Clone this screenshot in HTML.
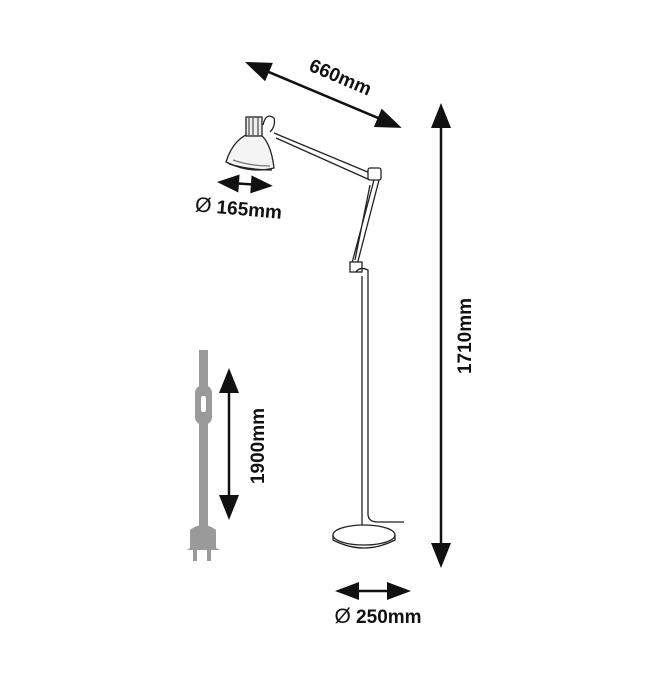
<!DOCTYPE html>
<html><head><meta charset="utf-8"><style>
html,body{margin:0;padding:0;background:#fff;}
svg{display:block;}
text{font-family:"Liberation Sans","DejaVu Sans",sans-serif;font-weight:bold;fill:#111;}
</style></head><body>
<svg width="650" height="677" viewBox="0 0 650 677" xmlns="http://www.w3.org/2000/svg">
<!-- 660mm arrow -->
<g transform="translate(245,62) rotate(22.8)">
  <line x1="14" y1="0" x2="157" y2="0" stroke="#111" stroke-width="2.5"/>
  <polygon points="0,0 26,-10 26,10" fill="#111"/>
  <polygon points="170,0 144,-10 144,10" fill="#111"/>
</g>
<text transform="translate(338,83) rotate(23)" font-size="19" text-anchor="middle">660mm</text>

<!-- 1710 arrow -->
<line x1="441" y1="120" x2="441" y2="552" stroke="#111" stroke-width="2.5"/>
<polygon points="441,103 431,128 451,128" fill="#111"/>
<polygon points="441,568 431,543 451,543" fill="#111"/>
<text transform="translate(471,336) rotate(-90)" font-size="19" text-anchor="middle">1710mm</text>

<!-- 1900 arrow -->
<line x1="229" y1="380" x2="229" y2="508" stroke="#111" stroke-width="2.5"/>
<polygon points="229,368 219,393 239,393" fill="#111"/>
<polygon points="229,520 219,495 239,495" fill="#111"/>
<text transform="translate(264,446) rotate(-90)" font-size="19" text-anchor="middle">1900mm</text>

<!-- 250 arrow -->
<line x1="345" y1="591" x2="400" y2="591" stroke="#111" stroke-width="2.5"/>
<polygon points="335,591 359,582 359,600" fill="#111"/>
<polygon points="411,591 387,582 387,600" fill="#111"/>
<text x="378" y="623" font-size="19" text-anchor="middle"><tspan font-size="21" font-weight="normal">Ø</tspan> 250mm</text>

<!-- 165 arrow -->
<g transform="translate(217,182) rotate(4)">
  <line x1="10" y1="0" x2="48" y2="0" stroke="#111" stroke-width="2.5"/>
  <polygon points="0,0 22,-9 22,9" fill="#111"/>
  <polygon points="56,0 34,-9 34,9" fill="#111"/>
</g>
<text transform="translate(238,215) rotate(5)" font-size="19" text-anchor="middle"><tspan font-size="21" font-weight="normal">Ø</tspan> 165mm</text>

<!-- lamp -->
<g fill="none" stroke="#222" stroke-width="1.3">
  <path d="M226,162 Q234,136 255,132 Q270,136 274,168 Q250,174 226,162 Z" fill="#f4f4f4"/>
  <path d="M229,164 Q250,170 272,170" />
  <path d="M233,160 Q250,166 270,166" stroke="#777"/>
  <rect x="246" y="117" width="16" height="19" fill="#eee"/>
  <path d="M249,117 L249,136 M253,117 L253,136 M258,117 L258,136" stroke="#555"/>
  <path d="M263,125 Q266,112 274,118 Q276,126 270,132"/>
  <path d="M274,133 L370,173 M276,138 L370,180"/>
  <rect x="368" y="168" width="13" height="12" rx="2" fill="#fff"/>
  <path d="M374,180 L352,263 M379,180 L357,265 M370,185 L355,260"/>
  <rect x="350" y="262" width="12" height="10" fill="#fff"/>
  <path d="M356,272 Q360,266 368,270 L368,276"/>
  <path d="M362,276 L362,528 M368,276 L368,514 Q368,522 378,522 L404,522"/>
  <ellipse cx="364" cy="535" rx="31" ry="10" fill="#fff"/>
  <path d="M333,535 L333,540 Q364,556 395,540 L395,535"/>
</g>

<!-- plug -->
<g fill="#9a9a9a">
  <rect x="199" y="350" width="9" height="180"/>
  <rect x="195" y="385" width="17" height="40" rx="8"/>
  <path d="M190,530 Q203,520 216,530 L216,548 L220,550 L187,550 L190,548 Z"/>
  <rect x="193" y="549" width="4" height="12"/>
  <rect x="207" y="549" width="4" height="12"/>
</g>
<rect x="201" y="396" width="5" height="16" rx="2" fill="#fff"/>
</svg>
</body></html>
